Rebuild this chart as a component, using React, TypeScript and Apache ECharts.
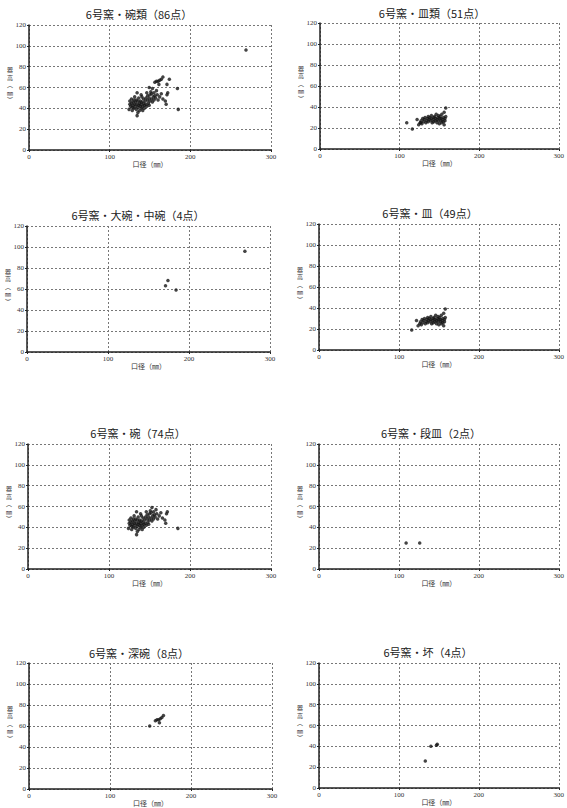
import React, { useEffect, useRef } from "react";
import * as echarts from "echarts";

// 口径 (mm), 器高 (mm)
const daWan: number[][] = [[171, 63], [174, 68], [184, 59], [269, 96]];
const shenWan: number[][] = [[149, 60], [156, 65], [158, 66], [160, 66], [162, 67], [164, 68], [166, 70], [161, 63]];
const wan: number[][] = [
  [124, 39], [125, 44], [125, 47], [126, 42], [127, 45], [127, 49], [128, 41], [128, 38],
  [129, 46], [129, 43], [130, 48], [130, 40], [131, 44], [131, 51], [132, 42], [132, 46],
  [133, 39], [133, 48], [134, 55], [134, 33], [134, 44], [135, 36], [135, 41], [135, 47],
  [136, 43], [136, 50], [137, 38], [137, 45], [138, 42], [138, 47], [139, 40], [139, 44],
  [140, 46], [140, 51], [141, 42], [141, 38], [142, 45], [142, 49], [143, 43], [143, 40],
  [144, 47], [145, 44], [145, 50], [146, 42], [147, 48], [147, 52], [148, 45], [149, 50],
  [149, 43], [150, 53], [150, 47], [151, 56], [152, 49], [152, 54], [153, 59], [153, 46],
  [154, 51], [155, 55], [155, 48], [156, 52], [157, 50], [158, 57], [159, 53], [160, 48],
  [162, 51], [164, 54], [166, 49], [169, 47], [170, 44], [171, 53], [172, 55], [185, 39],
  [146, 55], [139, 53],
];
const sara: number[][] = [
  [116, 19], [122, 28], [124, 23], [126, 25], [127, 27], [128, 24], [129, 29], [130, 26],
  [131, 28], [132, 30], [133, 25], [134, 27], [135, 29], [136, 31], [136, 26], [137, 28],
  [138, 30], [139, 27], [140, 29], [140, 32], [141, 25], [142, 28], [143, 30], [143, 26],
  [144, 31], [145, 27], [145, 29], [146, 33], [147, 28], [147, 25], [148, 30], [149, 27],
  [149, 32], [150, 29], [150, 24], [151, 31], [152, 27], [152, 29], [153, 33], [153, 25],
  [154, 28], [155, 30], [155, 26], [156, 23], [156, 35], [157, 29], [158, 39], [158, 31],
  [157, 27],
];
const danSara: number[][] = [[109, 25], [126, 25]];
const tsuki: number[][] = [[133, 26], [140, 40], [148, 42], [147, 41]];

const titles: string[] = [
  "6号窯・碗類（86点）",
  "6号窯・皿類（51点）",
  "6号窯・大碗・中碗（4点）",
  "6号窯・皿（49点）",
  "6号窯・碗（74点）",
  "6号窯・段皿（2点）",
  "6号窯・深碗（8点）",
  "6号窯・坏（4点）",
];
const panelData: number[][][] = [
  [...wan, ...daWan, ...shenWan],
  [...sara, ...danSara],
  daWan,
  sara,
  wan,
  danSara,
  shenWan,
  tsuki,
];
const xName = "口径（㎜）";
const yNameChars: string[] = ["器", "高", "︵", "㎜", "︶"];

// layout: [left, top, width, height, titleCenterX, titleCenterY]
const layout: number[][] = [
  [29, 25, 242, 125, 139, 14],
  [320, 23, 242, 126, 432, 13],
  [27, 226, 243, 126, 138, 215],
  [319, 224, 241, 126, 430, 213],
  [28, 444, 243, 125, 138, 433],
  [319, 444, 242, 125, 431, 433],
  [29, 663, 243, 126, 139, 653],
  [319, 663, 241, 125, 428, 652],
];

export default function App() {
  const ref = useRef<HTMLDivElement>(null);
  useEffect(() => {
    if (!ref.current) return;
    const chart = echarts.init(ref.current, null, { renderer: "svg" });
    const jp = "'Noto Sans CJK JP', sans-serif";
    const serif = "'Liberation Serif', serif";
    const grid = layout.map((l) => ({ left: l[0], top: l[1], width: l[2], height: l[3] }));
    const graphic: any[] = [];
    layout.forEach((l, i) => {
      graphic.push({
        type: "text",
        x: l[4],
        y: l[5],
        style: {
          text: titles[i],
          fontSize: 11,
          fontFamily: jp,
          fill: "#222",
          align: "center",
          verticalAlign: "middle",
        },
      });
      const cy = l[1] + l[3] / 2 - 3;
      const step = 7.5;
      yNameChars.forEach((ch, k) => {
        graphic.push({
          type: "text",
          x: l[0] - 19,
          y: cy + (k - 2) * step,
          style: {
            text: ch,
            fontSize: 6,
            fontFamily: jp,
            fill: "#333",
            align: "center",
            verticalAlign: "middle",
          },
        });
      });
    });
    const split = { show: true, lineStyle: { color: "#777", type: [2, 2], width: 1 } };
    const xAxis = layout.map((_, i) => ({
      type: "value",
      gridIndex: i,
      min: 0,
      max: 300,
      interval: 100,
      name: xName,
      nameLocation: "middle",
      nameGap: 10,
      nameTextStyle: { fontSize: 7, fontFamily: jp, color: "#333" },
      axisLine: { show: true, onZero: false, lineStyle: { color: "#222", width: 1.5 } },
      axisTick: { show: true, length: 2, inside: false, lineStyle: { color: "#222" } },
      axisLabel: { fontSize: 7, fontFamily: serif, color: "#333", margin: 3 },
      splitLine: split,
    }));
    const yAxis = layout.map((_, i) => ({
      type: "value",
      gridIndex: i,
      min: 0,
      max: 120,
      interval: 20,
      axisLine: { show: true, onZero: false, lineStyle: { color: "#222", width: 1.5 } },
      axisTick: { show: true, length: 2, lineStyle: { color: "#222" } },
      axisLabel: { fontSize: 7, fontFamily: serif, color: "#333", margin: 3 },
      splitLine: split,
    }));
    const series = panelData.map((d, i) => ({
      type: "scatter",
      xAxisIndex: i,
      yAxisIndex: i,
      data: d,
      symbol: "circle",
      symbolSize: 3.5,
      itemStyle: { color: "#151515" },
    }));
    chart.setOption({
      animation: false,
      backgroundColor: "#ffffff",
      grid,
      xAxis,
      yAxis,
      series,
      graphic,
    } as any);
    return () => chart.dispose();
  }, []);
  return (
    <div
      ref={ref}
      style={{ position: "fixed", left: 0, top: 0, width: 567, height: 808, background: "#fff" }}
    />
  );
}
